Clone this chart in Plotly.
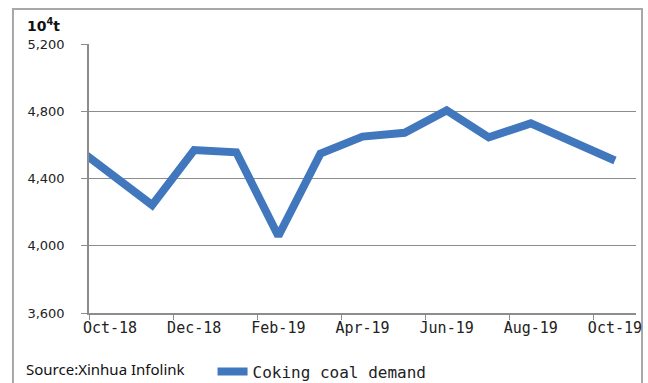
import plotly.graph_objects as go

# Data (Sep-18 point lies just outside the plotted range; it is clipped like in the reference)
months = ["Sep-18", "Oct-18", "Nov-18", "Dec-18", "Jan-19", "Feb-19", "Mar-19", "Apr-19",
          "May-19", "Jun-19", "Jul-19", "Aug-19", "Sep-19", "Oct-19"]
demand = [4621, 4436, 4242, 4569, 4556, 4058, 4548, 4649, 4672, 4805, 4645, 4728, 4618, 4507]
series_name = "Coking coal demand"
unit_label = "10<sup>4</sup>t"
source_text = "Source:Xinhua Infolink"

x_idx = list(range(-1, len(months) - 1))  # Oct-18 -> 0
label_idx = [i for i in x_idx if i >= 0 and i % 2 == 0]
label_txt = [months[i + 1] for i in label_idx]

fig = go.Figure()
fig.add_trace(go.Scatter(
    x=x_idx, y=demand, mode="lines", name=series_name,
    line=dict(color="#4077bd", width=8),
))

fig.update_layout(
    width=648, height=383,
    margin=dict(l=89, r=12, t=44, b=70, autoexpand=False),
    paper_bgcolor="white", plot_bgcolor="white",
    showlegend=True,
    legend=dict(orientation="h", xref="container", yref="container",
                x=0.328, y=0.03, xanchor="left", yanchor="middle",
                font=dict(family="DejaVu Sans Mono", size=16, color="#222"),
                itemwidth=30, bgcolor="rgba(0,0,0,0)"),
    xaxis=dict(
        range=[-0.5, 12.5], tickmode="array", tickvals=label_idx, ticktext=label_txt,
        ticks="", showgrid=False, zeroline=False,
        showline=True, linecolor="#8c8c8c", linewidth=1.5,
        tickfont=dict(family="DejaVu Sans Mono", size=15, color="#222"),
        ticklabelstandoff=0,
        minor=dict(ticks="outside", tick0=-0.5, dtick=2, ticklen=5,
                   tickcolor="#8c8c8c", showgrid=False),
    ),
    yaxis=dict(
        range=[3600, 5200], tick0=3600, dtick=400, tickformat=",",
        showgrid=True, gridcolor="#8c8c8c", gridwidth=1,
        zeroline=False, showline=True, linecolor="#8c8c8c", linewidth=1.5,
        ticks="outside", ticklen=6, tickcolor="#8c8c8c",
        ticklabelstandoff=14,
        tickfont=dict(family="DejaVu Sans", size=13, color="#222"),
    ),
    shapes=[dict(type="rect", xref="paper", yref="paper",
                 x0=-0.139, x1=1.011, y0=-0.5, y1=1.13,
                 line=dict(color="#a8a8a8", width=2), fillcolor="rgba(0,0,0,0)", layer="below")],
    annotations=[
        dict(text="<b>" + unit_label + "</b>", xref="paper", yref="paper",
             x=-0.117, y=1.07, xanchor="left", yanchor="middle", showarrow=False,
             font=dict(family="DejaVu Sans", size=14, color="#111")),
        dict(text=source_text, xref="paper", yref="paper",
             x=-0.118, y=-0.21, xanchor="left", yanchor="middle", showarrow=False,
             font=dict(family="Noto Sans", size=15, color="#111")),
    ],
)

fig.write_html("out.html")
